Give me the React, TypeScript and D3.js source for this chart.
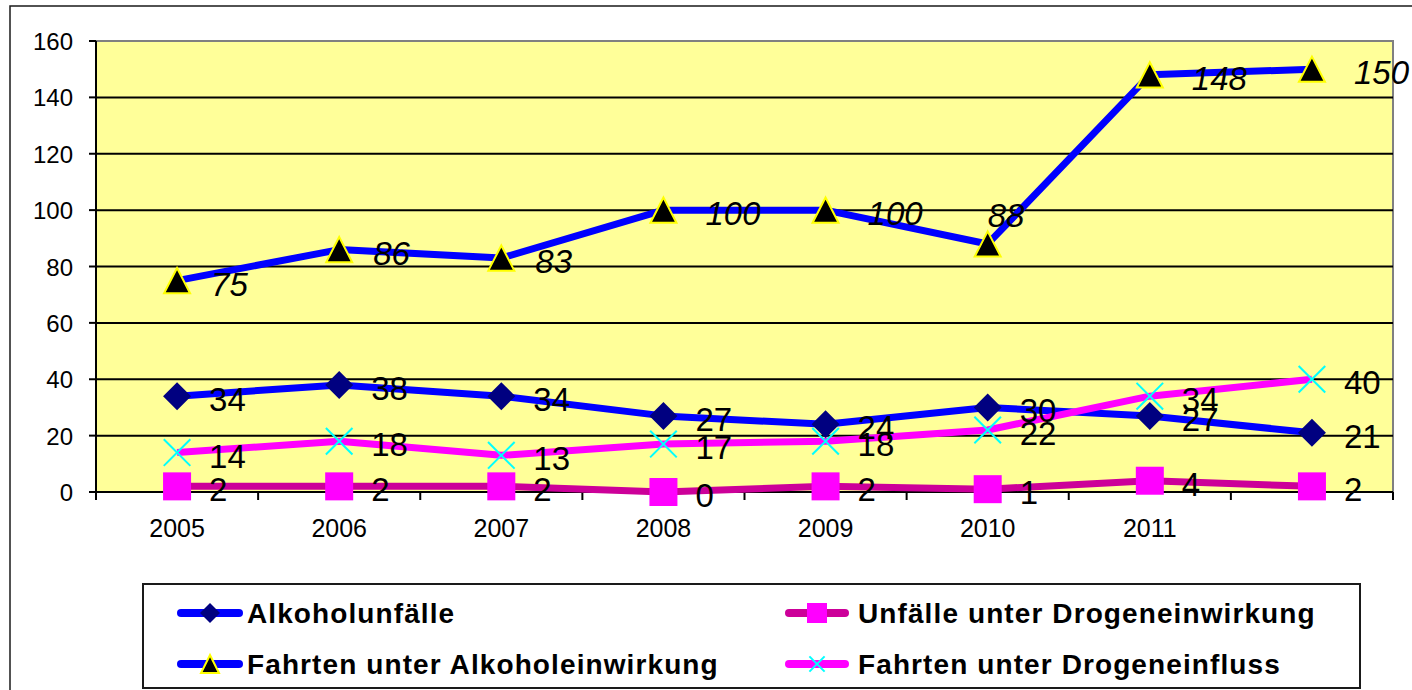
import React from "react";
import * as d3 from "d3";

const categories = ["2005", "2006", "2007", "2008", "2009", "2010", "2011", ""];
const alkoholunfaelle = [34, 38, 34, 27, 24, 30, 27, 21];
const unfaelleDrogen = [2, 2, 2, 0, 2, 1, 4, 2];
const fahrtenAlkohol = [75, 86, 83, 100, 100, 88, 148, 150];
const fahrtenDrogen = [14, 18, 13, 17, 18, 22, 34, 40];
const yTicks = [0, 20, 40, 60, 80, 100, 120, 140, 160];
const seriesNames = [
  "Alkoholunfälle",
  "Unfälle unter Drogeneinwirkung",
  "Fahrten unter Alkoholeinwirkung",
  "Fahrten unter Drogeneinfluss",
];

type Marker = "diamond" | "square" | "triangle" | "x";
interface Series {
  name: string;
  values: number[];
  line: string;
  marker: Marker;
  italic: boolean;
}

const series: Series[] = [
  { name: seriesNames[0], values: alkoholunfaelle, line: "#0000FF", marker: "diamond", italic: false },
  { name: seriesNames[1], values: unfaelleDrogen, line: "#CC0099", marker: "square", italic: false },
  { name: seriesNames[2], values: fahrtenAlkohol, line: "#0000FF", marker: "triangle", italic: true },
  { name: seriesNames[3], values: fahrtenDrogen, line: "#FF00FF", marker: "x", italic: false },
];

const FONT = "'Liberation Sans', Arial, Helvetica, sans-serif";

function MarkerShape({ type, cx, cy, s }: { type: Marker; cx: number; cy: number; s: number }) {
  if (type === "diamond") {
    return (
      <path
        d={`M${cx},${cy - s}L${cx + s},${cy}L${cx},${cy + s}L${cx - s},${cy}Z`}
        fill="#000080"
      />
    );
  }
  if (type === "square") {
    return <rect x={cx - s} y={cy - s} width={2 * s} height={2 * s} fill="#FF00FF" />;
  }
  if (type === "triangle") {
    const h = s * 0.9;
    return (
      <path
        d={`M${cx},${cy - h}L${cx + s - 1},${cy + h}L${cx - s + 1},${cy + h}Z`}
        fill="#000000"
        stroke="#FFFF00"
        strokeWidth={2}
        strokeLinejoin="miter"
      />
    );
  }
  const k = s * 0.95;
  return (
    <g stroke="#00FFFF" strokeWidth={2}>
      <line x1={cx - k} y1={cy - k} x2={cx + k} y2={cy + k} />
      <line x1={cx - k} y1={cy + k} x2={cx + k} y2={cy - k} />
    </g>
  );
}

export default function App() {
  const W = 1412;
  const H = 690;
  const left = 96;
  const right = 1393;
  const top = 41;
  const bottom = 492;

  const x = d3
    .scaleBand<number>()
    .domain(d3.range(categories.length))
    .range([left, right])
    .paddingInner(0)
    .paddingOuter(0);
  const bw = x.bandwidth();
  const cx = (i: number) => (x(i) as number) + bw / 2;
  const y = d3.scaleLinear().domain([0, 160]).range([bottom, top]);

  const lineGen = d3
    .line<number>()
    .x((_, i) => cx(i))
    .y((d) => y(d));

  const boundaries = d3.range(categories.length + 1).map((i) => left + i * bw);

  const labelPos = (si: number, i: number, v: number) => {
    const s = series[si];
    const txt = String(v);
    // special placement for the 2010 value of "Fahrten unter Alkoholeinwirkung"
    if (si === 2 && i === 5) return { lx: cx(i) + 0, ly: y(v) - 17 };
    const dx = s.italic ? 18 + 8 * txt.length : 32;
    return { lx: cx(i) + dx, ly: y(v) + 15 };
  };

  const legendItems = [
    { si: 0, lx1: 177, lx2: 243, tx: 247, cy: 613 },
    { si: 1, lx1: 785, lx2: 849, tx: 858, cy: 613 },
    { si: 2, lx1: 177, lx2: 243, tx: 247, cy: 664 },
    { si: 3, lx1: 785, lx2: 849, tx: 858, cy: 664 },
  ];

  return (
    <svg
      width={W}
      height={H}
      style={{ position: "absolute", left: 0, top: 0, background: "#FFFFFF" }}
      fontFamily={FONT}
    >
      <rect x={0} y={0} width={W} height={H} fill="#FFFFFF" />
      {/* outer chart frame */}
      <rect x={10} y={6} width={1430} height={720} fill="none" stroke="#1a1a1a" strokeWidth={1.5} />

      {/* plot area */}
      <rect x={left} y={top} width={right - left} height={bottom - top} fill="#FFFF99" stroke="#808080" strokeWidth={2} />

      {/* gridlines */}
      {yTicks
        .filter((t) => t > 0 && t < 160)
        .map((t) => (
          <line key={"g" + t} x1={left} x2={right} y1={y(t)} y2={y(t)} stroke="#000000" strokeWidth={2} />
        ))}

      {/* y axis */}
      <line x1={left} x2={left} y1={top} y2={bottom} stroke="#000000" strokeWidth={2} />
      {yTicks.map((t) => (
        <g key={"yt" + t}>
          <line x1={left - 7} x2={left} y1={y(t)} y2={y(t)} stroke="#000000" strokeWidth={2} />
          <text x={73} y={y(t) + 9} textAnchor="end" fontSize={24} fill="#000000">
            {t}
          </text>
        </g>
      ))}

      {/* x axis */}
      <line x1={left} x2={right} y1={bottom} y2={bottom} stroke="#000000" strokeWidth={2} />
      {boundaries.map((b, i) => (
        <line key={"xt" + i} x1={b} x2={b} y1={bottom} y2={bottom + 8} stroke="#000000" strokeWidth={2} />
      ))}
      {categories.map((c, i) => (
        <text key={"xl" + i} x={cx(i)} y={537} textAnchor="middle" fontSize={25} fill="#000000">
          {c}
        </text>
      ))}

      {/* series */}
      {series.map((s, si) => (
        <g key={"s" + si}>
          <path d={lineGen(s.values) || ""} fill="none" stroke={s.line} strokeWidth={7} strokeLinejoin="round" />
          {s.values.map((v, i) => (
            <MarkerShape key={i} type={s.marker} cx={cx(i)} cy={y(v)} s={14} />
          ))}
        </g>
      ))}

      {/* data labels */}
      {series.map((s, si) =>
        s.values.map((v, i) => {
          const { lx, ly } = labelPos(si, i, v);
          return (
            <text
              key={"lb" + si + "-" + i}
              x={lx}
              y={ly}
              fontSize={33}
              fontStyle={s.italic ? "italic" : "normal"}
              fill="#000000"
            >
              {v}
            </text>
          );
        })
      )}

      {/* legend */}
      <rect x={143} y={584} width={1217} height={104} fill="#FFFFFF" stroke="#1a1a1a" strokeWidth={2} />
      {legendItems.map((it) => {
        const s = series[it.si];
        const mid = (it.lx1 + it.lx2) / 2;
        return (
          <g key={"lg" + it.si}>
            <line
              x1={it.lx1 + 4}
              x2={it.lx2 - 4}
              y1={it.cy}
              y2={it.cy}
              stroke={s.line}
              strokeWidth={8}
              strokeLinecap="round"
            />
            <MarkerShape type={s.marker} cx={mid} cy={it.cy} s={s.marker === "x" ? 8 : 10} />
            <text
              x={it.tx}
              y={it.cy + 10}
              fontSize={28}
              fontWeight="bold"
              letterSpacing={1.1}
              fill="#000000"
            >
              {s.name}
            </text>
          </g>
        );
      })}
    </svg>
  );
}
